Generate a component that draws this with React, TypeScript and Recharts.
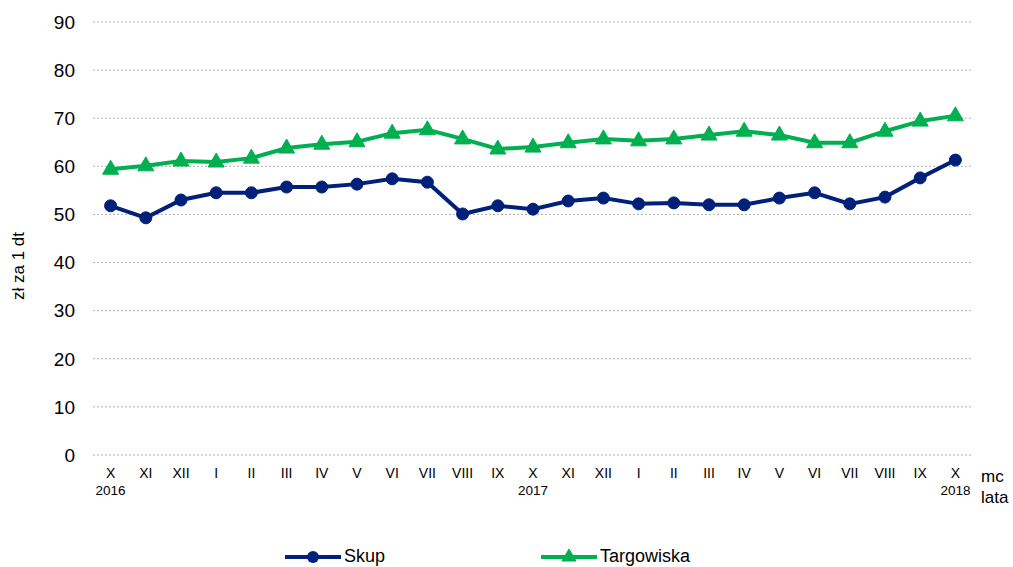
import React from "react";
import { LineChart, Line, XAxis, YAxis, CartesianGrid, Legend } from "recharts";

const months = ["X","XI","XII","I","II","III","IV","V","VI","VII","VIII","IX","X","XI","XII","I","II","III","IV","V","VI","VII","VIII","IX","X"];
const years = ["2016","","","","","","","","","","","","2017","","","","","","","","","","","","2018"];
const skup = [51.8,49.3,53.0,54.5,54.5,55.7,55.7,56.3,57.4,56.7,50.1,51.8,51.1,52.8,53.4,52.2,52.4,52.0,52.0,53.4,54.5,52.2,53.6,57.6,61.3];
const targowiska = [59.4,60.1,61.1,60.9,61.7,63.8,64.6,65.1,66.9,67.6,65.7,63.6,64.0,64.9,65.7,65.3,65.7,66.5,67.3,66.5,64.9,64.9,67.3,69.4,70.5];
const yTicks = [0,10,20,30,40,50,60,70,80,90];

const data = months.map((m, i) => ({ key: i, month: m, year: years[i], skup: skup[i], targowiska: targowiska[i] }));

const NAVY = "#00207A";
const GREEN = "#00B050";
const FONT = "Arial, 'Liberation Sans', sans-serif";

const XTick = (props: any) => {
  const { x, y, payload } = props;
  const d = data[payload.value];
  return (
    <g>
      <text x={x} y={y + 15} textAnchor="middle" fontSize={14} fill="#000" fontFamily={FONT}>{d.month}</text>
      {d.year && <text x={x} y={y + 32} textAnchor="middle" fontSize={13.5} fill="#000" fontFamily={FONT}>{d.year}</text>}
    </g>
  );
};

const Triangle = (props: any) => {
  const { cx, cy, index } = props;
  if (cx == null || cy == null) return <g key={index} />;
  return <polygon key={index} points={`${cx},${cy - 9} ${cx + 8},${cy + 5} ${cx - 8},${cy + 5}`} fill={GREEN} stroke={GREEN} strokeWidth={1} strokeLinejoin="round" />;
};

const LegendContent = () => (
  <div style={{ position: "relative", width: 1013, height: 24, fontFamily: FONT, fontSize: 18 }}>
    <div style={{ position: "absolute", left: 285, top: 0, display: "flex", alignItems: "center" }}>
      <svg width={56} height={20}>
        <line x1={0} y1={10} x2={56} y2={10} stroke={NAVY} strokeWidth={4} />
        <circle cx={28} cy={10} r={6} fill={NAVY} />
      </svg>
      <span style={{ marginLeft: 3 }}>Skup</span>
    </div>
    <div style={{ position: "absolute", left: 541, top: 0, display: "flex", alignItems: "center" }}>
      <svg width={56} height={20}>
        <line x1={0} y1={10} x2={56} y2={10} stroke={GREEN} strokeWidth={4} />
        <polygon points="28,2 35,14 21,14" fill={GREEN} stroke={GREEN} strokeLinejoin="round" />
      </svg>
      <span style={{ marginLeft: 3 }}>Targowiska</span>
    </div>
  </div>
);

export default function App() {
  return (
    <div style={{ position: "absolute", left: 0, top: 0, width: 1013, height: 567, background: "#fff" }}>
      <LineChart width={1013} height={567} data={data} margin={{ top: 22, right: 40, bottom: 28, left: 33 }}>
        <CartesianGrid vertical={false} stroke="#b0b0b0" strokeDasharray="2 2" />
        <XAxis dataKey="key" type="category" axisLine={false} tickLine={false} interval={0} tick={<XTick />} height={60} padding={{ left: 17.6, right: 17.6 }} />
        <YAxis
          domain={[0, 90]}
          ticks={yTicks}
          axisLine={false}
          tickLine={false}
          width={60}
          tick={{ fontSize: 19, fill: "#000", fontFamily: FONT }}
          tickMargin={12}
        />
        <Legend verticalAlign="bottom" content={<LegendContent />} wrapperStyle={{ position: "absolute", left: 0, top: 546, width: 1013 }} />
        <Line dataKey="targowiska" stroke={GREEN} strokeWidth={4} dot={<Triangle />} activeDot={false} isAnimationActive={false} />
        <Line dataKey="skup" stroke={NAVY} strokeWidth={4} dot={{ r: 6, fill: NAVY, stroke: NAVY, strokeWidth: 1 }} activeDot={false} isAnimationActive={false} />
        <text transform="translate(24,266) rotate(-90)" textAnchor="middle" fontSize={17} fontFamily={FONT} fill="#000">zł za 1 dt</text>
        <text x={981} y={482} fontSize={17} fontFamily={FONT} fill="#000">mc</text>
        <text x={981} y={503} fontSize={17} fontFamily={FONT} fill="#000">lata</text>
      </LineChart>
    </div>
  );
}
